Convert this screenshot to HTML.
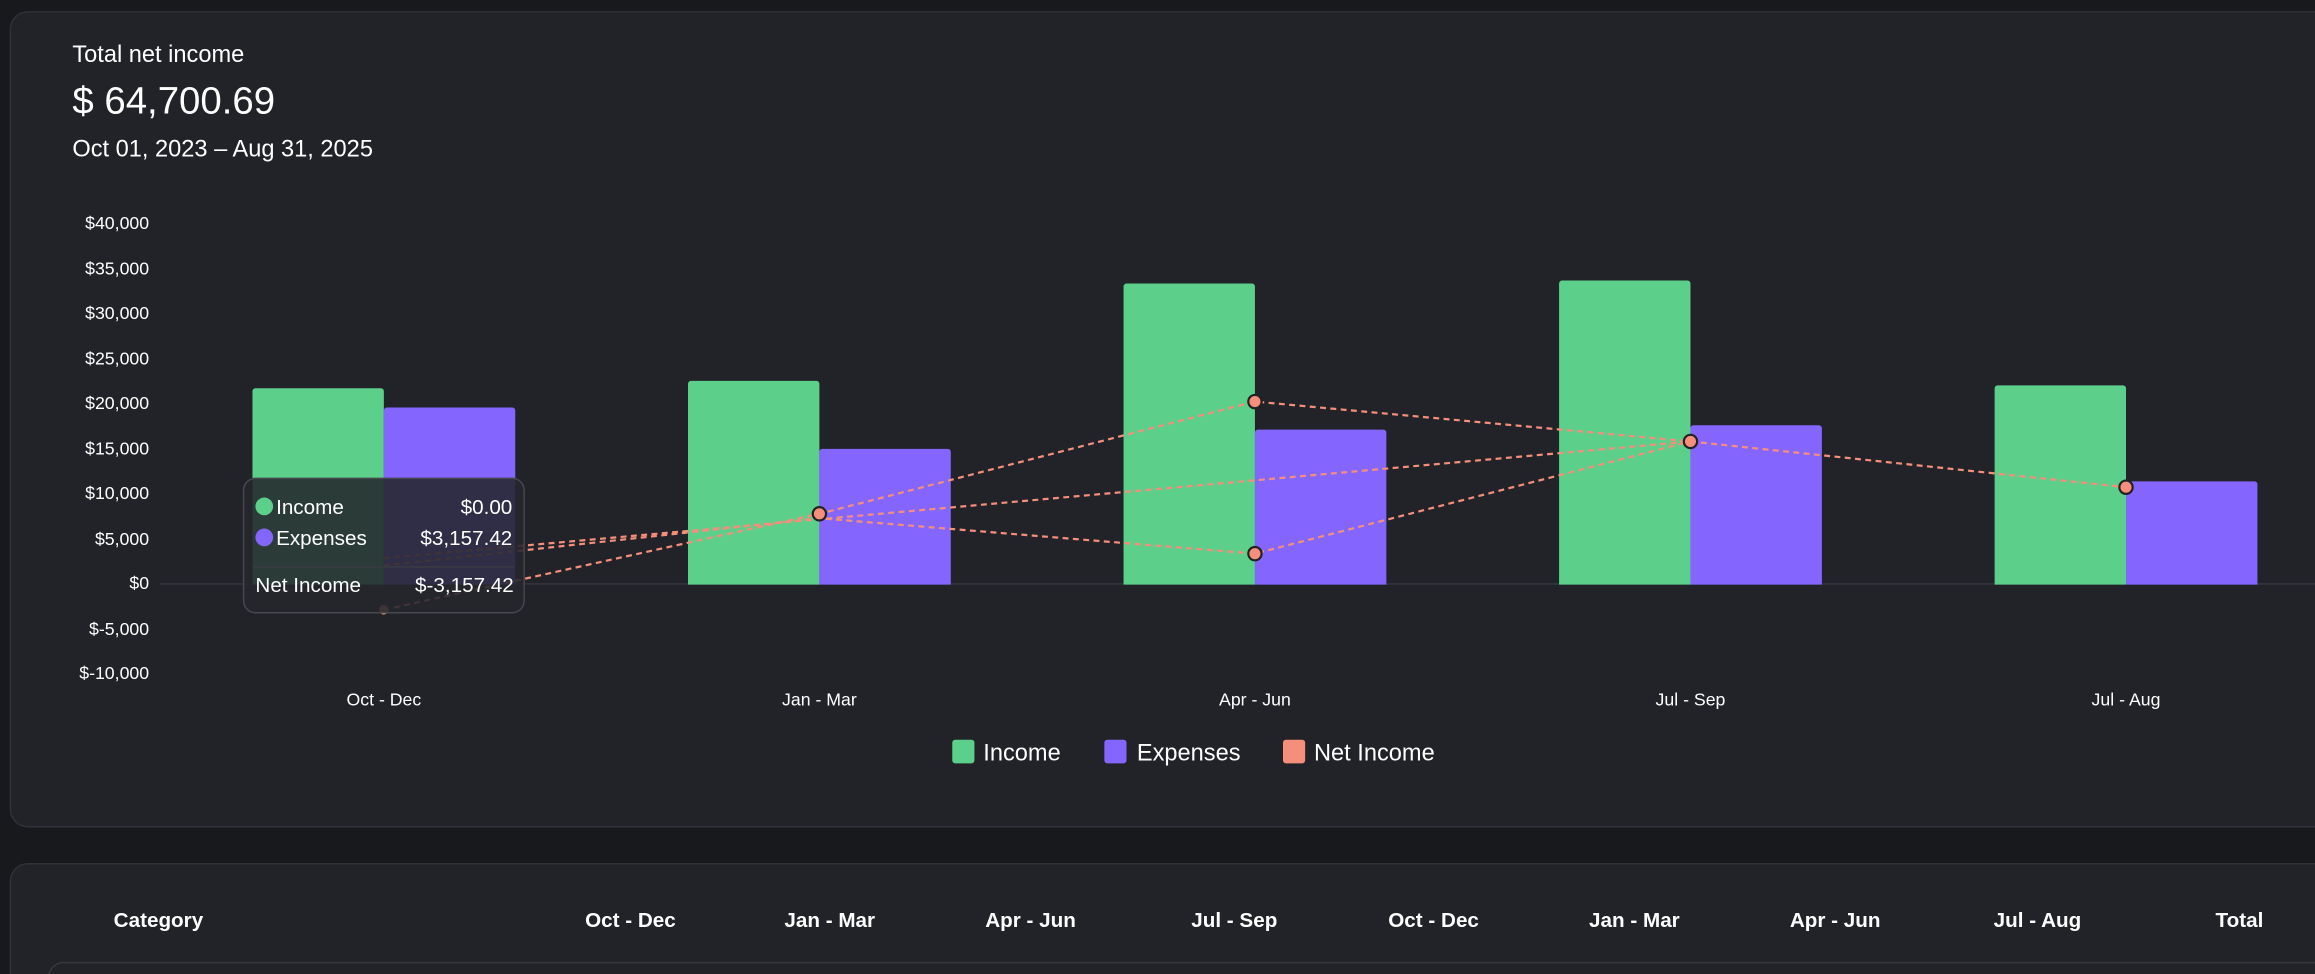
<!DOCTYPE html>
<html><head><meta charset="utf-8"><style>
html,body{margin:0;padding:0;background:#17191d;width:2315px;height:974px;overflow:hidden}
svg{display:block;font-family:"Liberation Sans",sans-serif}
</style></head><body>
<svg width="2315" height="974" viewBox="0 0 1568 659.7" preserveAspectRatio="none">
<rect x="0" y="0" width="1568" height="660" fill="#17191d"/>
<rect x="7" y="8" width="1580" height="552" rx="12" fill="#212328" stroke="#2f3237" stroke-width="1"/>
<rect x="7" y="585" width="1580" height="100" rx="12" fill="#212328" stroke="#2f3237" stroke-width="1"/>
<rect x="33" y="652" width="1560" height="40" rx="10" fill="#212328" stroke="#35383d" stroke-width="1"/>
<text x="49" y="42" fill="#fff" font-size="16">Total net income</text>
<text x="49" y="77" fill="#fff" font-size="26">$ 64,700.69</text>
<text x="49" y="106" fill="#fff" font-size="16">Oct 01, 2023 – Aug 31, 2025</text>
<g fill="#fff" font-size="12" text-anchor="end">
<text x="101" y="155">$40,000</text><text x="101" y="186">$35,000</text><text x="101" y="216">$30,000</text>
<text x="101" y="247">$25,000</text><text x="101" y="277">$20,000</text><text x="101" y="308">$15,000</text>
<text x="101" y="338">$10,000</text><text x="101" y="369">$5,000</text><text x="101" y="399">$0</text>
<text x="101" y="430">$-5,000</text><text x="101" y="460">$-10,000</text>
</g>
<line x1="108" y1="395.5" x2="1568" y2="395.5" stroke="#363940"/>
<g fill="#5ccf8a">
<path d="M171,396V265a2,2 0 0 1 2,-2H258a2,2 0 0 1 2,2V396Z"/>
<path d="M466,396V260a2,2 0 0 1 2,-2H553a2,2 0 0 1 2,2V396Z"/>
<path d="M761,396V194a2,2 0 0 1 2,-2H848a2,2 0 0 1 2,2V396Z"/>
<path d="M1056,396V192a2,2 0 0 1 2,-2H1143a2,2 0 0 1 2,2V396Z"/>
<path d="M1351,396V263a2,2 0 0 1 2,-2H1438a2,2 0 0 1 2,2V396Z"/>
</g>
<g fill="#8466ff">
<path d="M260,396V278a2,2 0 0 1 2,-2H347a2,2 0 0 1 2,2V396Z"/>
<path d="M555,396V306a2,2 0 0 1 2,-2H642a2,2 0 0 1 2,2V396Z"/>
<path d="M850,396V293a2,2 0 0 1 2,-2H937a2,2 0 0 1 2,2V396Z"/>
<path d="M1145,396V290a2,2 0 0 1 2,-2H1232a2,2 0 0 1 2,2V396Z"/>
<path d="M1440,396V328a2,2 0 0 1 2,-2H1527a2,2 0 0 1 2,2V396Z"/>
</g>
<g fill="none" stroke="#f58f7c" stroke-width="1.5" stroke-dasharray="4,3">
<polyline points="260,413 555,348 850,272 1145,299 1440,330"/>
<polyline points="260,383 555,351 850,375 1145,299"/>
<polyline points="260,378 1145,299"/>
</g>
<g fill="#f58f7c" stroke="#222" stroke-width="1.5">
<circle cx="555" cy="348" r="4.5"/><circle cx="850" cy="272" r="4.5"/><circle cx="1145" cy="299" r="4.5"/>
<circle cx="1440" cy="330" r="4.5"/><circle cx="850" cy="375" r="4.5"/><circle cx="260" cy="413" r="4"/>
</g>
<rect x="165" y="324" width="190" height="91" rx="8" fill="rgba(36,39,44,0.88)" stroke="#45484e"/>
<circle cx="179" cy="343" r="6" fill="#5ccf8a"/><circle cx="179" cy="364" r="6" fill="#8466ff"/>
<g fill="#fff" font-size="14">
<text x="187" y="348">Income</text><text x="347" y="348" text-anchor="end">$0.00</text>
<text x="187" y="369">Expenses</text><text x="347" y="369" text-anchor="end">$3,157.42</text>
<text x="173" y="401">Net Income</text><text x="348" y="401" text-anchor="end">$-3,157.42</text>
</g>
<line x1="172" y1="384" x2="348" y2="384" stroke="#3a3d42"/>
<g fill="#fff" font-size="12" text-anchor="middle">
<text x="260" y="478">Oct - Dec</text><text x="555" y="478">Jan - Mar</text><text x="850" y="478">Apr - Jun</text>
<text x="1145" y="478">Jul - Sep</text><text x="1440" y="478">Jul - Aug</text>
</g>
<rect x="645" y="501" width="15" height="16" rx="2" fill="#5ccf8a"/>
<rect x="748" y="501" width="15" height="16" rx="2" fill="#8466ff"/>
<rect x="869" y="501" width="15" height="16" rx="2" fill="#f58f7c"/>
<g fill="#fff" font-size="16">
<text x="666" y="515">Income</text><text x="770" y="515">Expenses</text><text x="890" y="515">Net Income</text>
</g>
<g fill="#fff" font-size="14" font-weight="bold" text-anchor="middle">
<text x="77" y="628" text-anchor="start">Category</text>
<text x="427" y="628">Oct - Dec</text><text x="562" y="628">Jan - Mar</text><text x="698" y="628">Apr - Jun</text>
<text x="836" y="628">Jul - Sep</text><text x="971" y="628">Oct - Dec</text><text x="1107" y="628">Jan - Mar</text>
<text x="1243" y="628">Apr - Jun</text><text x="1380" y="628">Jul - Aug</text>
<text x="1533" y="628" text-anchor="end">Total</text>
</g>
</svg>
</body></html>
